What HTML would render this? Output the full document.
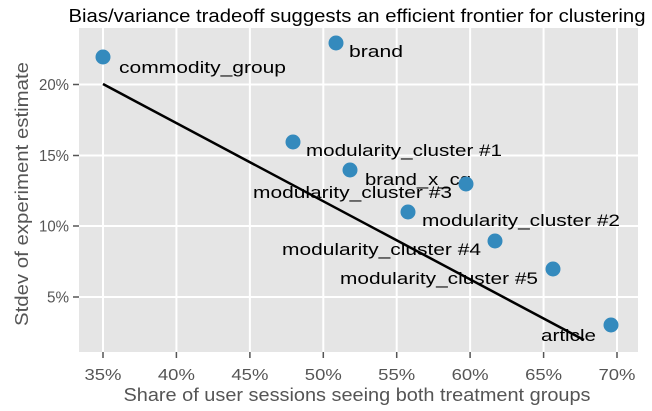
<!DOCTYPE html>
<html><head><meta charset="utf-8"><style>
body{margin:0;background:#fff}
svg{display:block;font-family:"Liberation Sans","DejaVu Sans",sans-serif}
</style></head><body>
<svg width="652" height="411" viewBox="0 0 652 411">
<rect x="79" y="28" width="559" height="324" fill="#e5e5e5"/>
<g stroke="#fff" stroke-width="2">
<line x1="103" y1="28" x2="103" y2="352"/><line x1="176.4" y1="28" x2="176.4" y2="352"/>
<line x1="249.9" y1="28" x2="249.9" y2="352"/><line x1="323.3" y1="28" x2="323.3" y2="352"/>
<line x1="396.7" y1="28" x2="396.7" y2="352"/><line x1="470.1" y1="28" x2="470.1" y2="352"/>
<line x1="543.6" y1="28" x2="543.6" y2="352"/><line x1="617" y1="28" x2="617" y2="352"/>
<line x1="79" y1="84.5" x2="638" y2="84.5"/><line x1="79" y1="155.5" x2="638" y2="155.5"/>
<line x1="79" y1="226" x2="638" y2="226"/><line x1="79" y1="297" x2="638" y2="297"/>
</g>
<g stroke="#555" stroke-width="1.5">
<line x1="103" y1="352" x2="103" y2="358"/><line x1="176.4" y1="352" x2="176.4" y2="358"/>
<line x1="249.9" y1="352" x2="249.9" y2="358"/><line x1="323.3" y1="352" x2="323.3" y2="358"/>
<line x1="396.7" y1="352" x2="396.7" y2="358"/><line x1="470.1" y1="352" x2="470.1" y2="358"/>
<line x1="543.6" y1="352" x2="543.6" y2="358"/><line x1="617" y1="352" x2="617" y2="358"/>
<line x1="73" y1="84.5" x2="79" y2="84.5"/><line x1="73" y1="155.5" x2="79" y2="155.5"/>
<line x1="73" y1="226" x2="79" y2="226"/><line x1="73" y1="297" x2="79" y2="297"/>
</g>
<g fill="#555" font-size="16" text-anchor="middle" lengthAdjust="spacingAndGlyphs">
<text x="103" y="380" textLength="37" lengthAdjust="spacingAndGlyphs">35%</text><text x="176.4" y="380" textLength="37" lengthAdjust="spacingAndGlyphs">40%</text><text x="249.9" y="380" textLength="37" lengthAdjust="spacingAndGlyphs">45%</text>
<text x="323.3" y="380" textLength="37" lengthAdjust="spacingAndGlyphs">50%</text><text x="396.7" y="380" textLength="37" lengthAdjust="spacingAndGlyphs">55%</text><text x="470.1" y="380" textLength="37" lengthAdjust="spacingAndGlyphs">60%</text>
<text x="543.6" y="380" textLength="37" lengthAdjust="spacingAndGlyphs">65%</text><text x="617" y="380" textLength="37" lengthAdjust="spacingAndGlyphs">70%</text>
</g>
<g fill="#555" font-size="16" text-anchor="end">
<text x="69" y="90" textLength="30" lengthAdjust="spacingAndGlyphs">20%</text><text x="69" y="161" textLength="30" lengthAdjust="spacingAndGlyphs">15%</text><text x="69" y="231.5" textLength="30" lengthAdjust="spacingAndGlyphs">10%</text><text x="69" y="302.5" textLength="22" lengthAdjust="spacingAndGlyphs">5%</text>
</g>
<text x="357" y="401" fill="#555" font-size="18" text-anchor="middle" textLength="467" lengthAdjust="spacingAndGlyphs">Share of user sessions seeing both treatment groups</text>
<text transform="translate(28,194) rotate(-90)" fill="#555" font-size="18" text-anchor="middle" textLength="264" lengthAdjust="spacingAndGlyphs">Stdev of experiment estimate</text>
<text x="357" y="22" fill="#000" font-size="18" text-anchor="middle" textLength="577" lengthAdjust="spacingAndGlyphs">Bias/variance tradeoff suggests an efficient frontier for clustering</text>
<g fill="#000" font-size="17">
<text x="119" y="73" textLength="167" lengthAdjust="spacingAndGlyphs">commodity_group</text>
<text x="349" y="57" textLength="54" lengthAdjust="spacingAndGlyphs">brand</text>
<text x="306" y="156" textLength="196" lengthAdjust="spacingAndGlyphs">modularity_cluster #1</text>
<text x="365" y="185" textLength="106" lengthAdjust="spacingAndGlyphs">brand_x_cg</text>
<text x="253" y="198" textLength="199" lengthAdjust="spacingAndGlyphs">modularity_cluster #3</text>
<text x="422" y="226" textLength="198" lengthAdjust="spacingAndGlyphs">modularity_cluster #2</text>
<text x="282" y="255" textLength="199" lengthAdjust="spacingAndGlyphs">modularity_cluster #4</text>
<text x="340" y="284" textLength="198" lengthAdjust="spacingAndGlyphs">modularity_cluster #5</text>
<text x="541" y="341" textLength="55" lengthAdjust="spacingAndGlyphs">article</text>
</g>
<g fill="#348abd">
<circle cx="103" cy="57" r="7.5"/><circle cx="336" cy="43" r="7.5"/><circle cx="293" cy="142" r="7.5"/>
<circle cx="466" cy="184" r="7.5"/><circle cx="350" cy="170" r="7.5"/><circle cx="408" cy="212" r="7.5"/>
<circle cx="495" cy="241" r="7.5"/><circle cx="553" cy="269" r="7.5"/><circle cx="611" cy="325" r="7.5"/>
</g>
<line x1="103" y1="84" x2="584" y2="340" stroke="#000" stroke-width="2.5"/>
</svg>
</body></html>
